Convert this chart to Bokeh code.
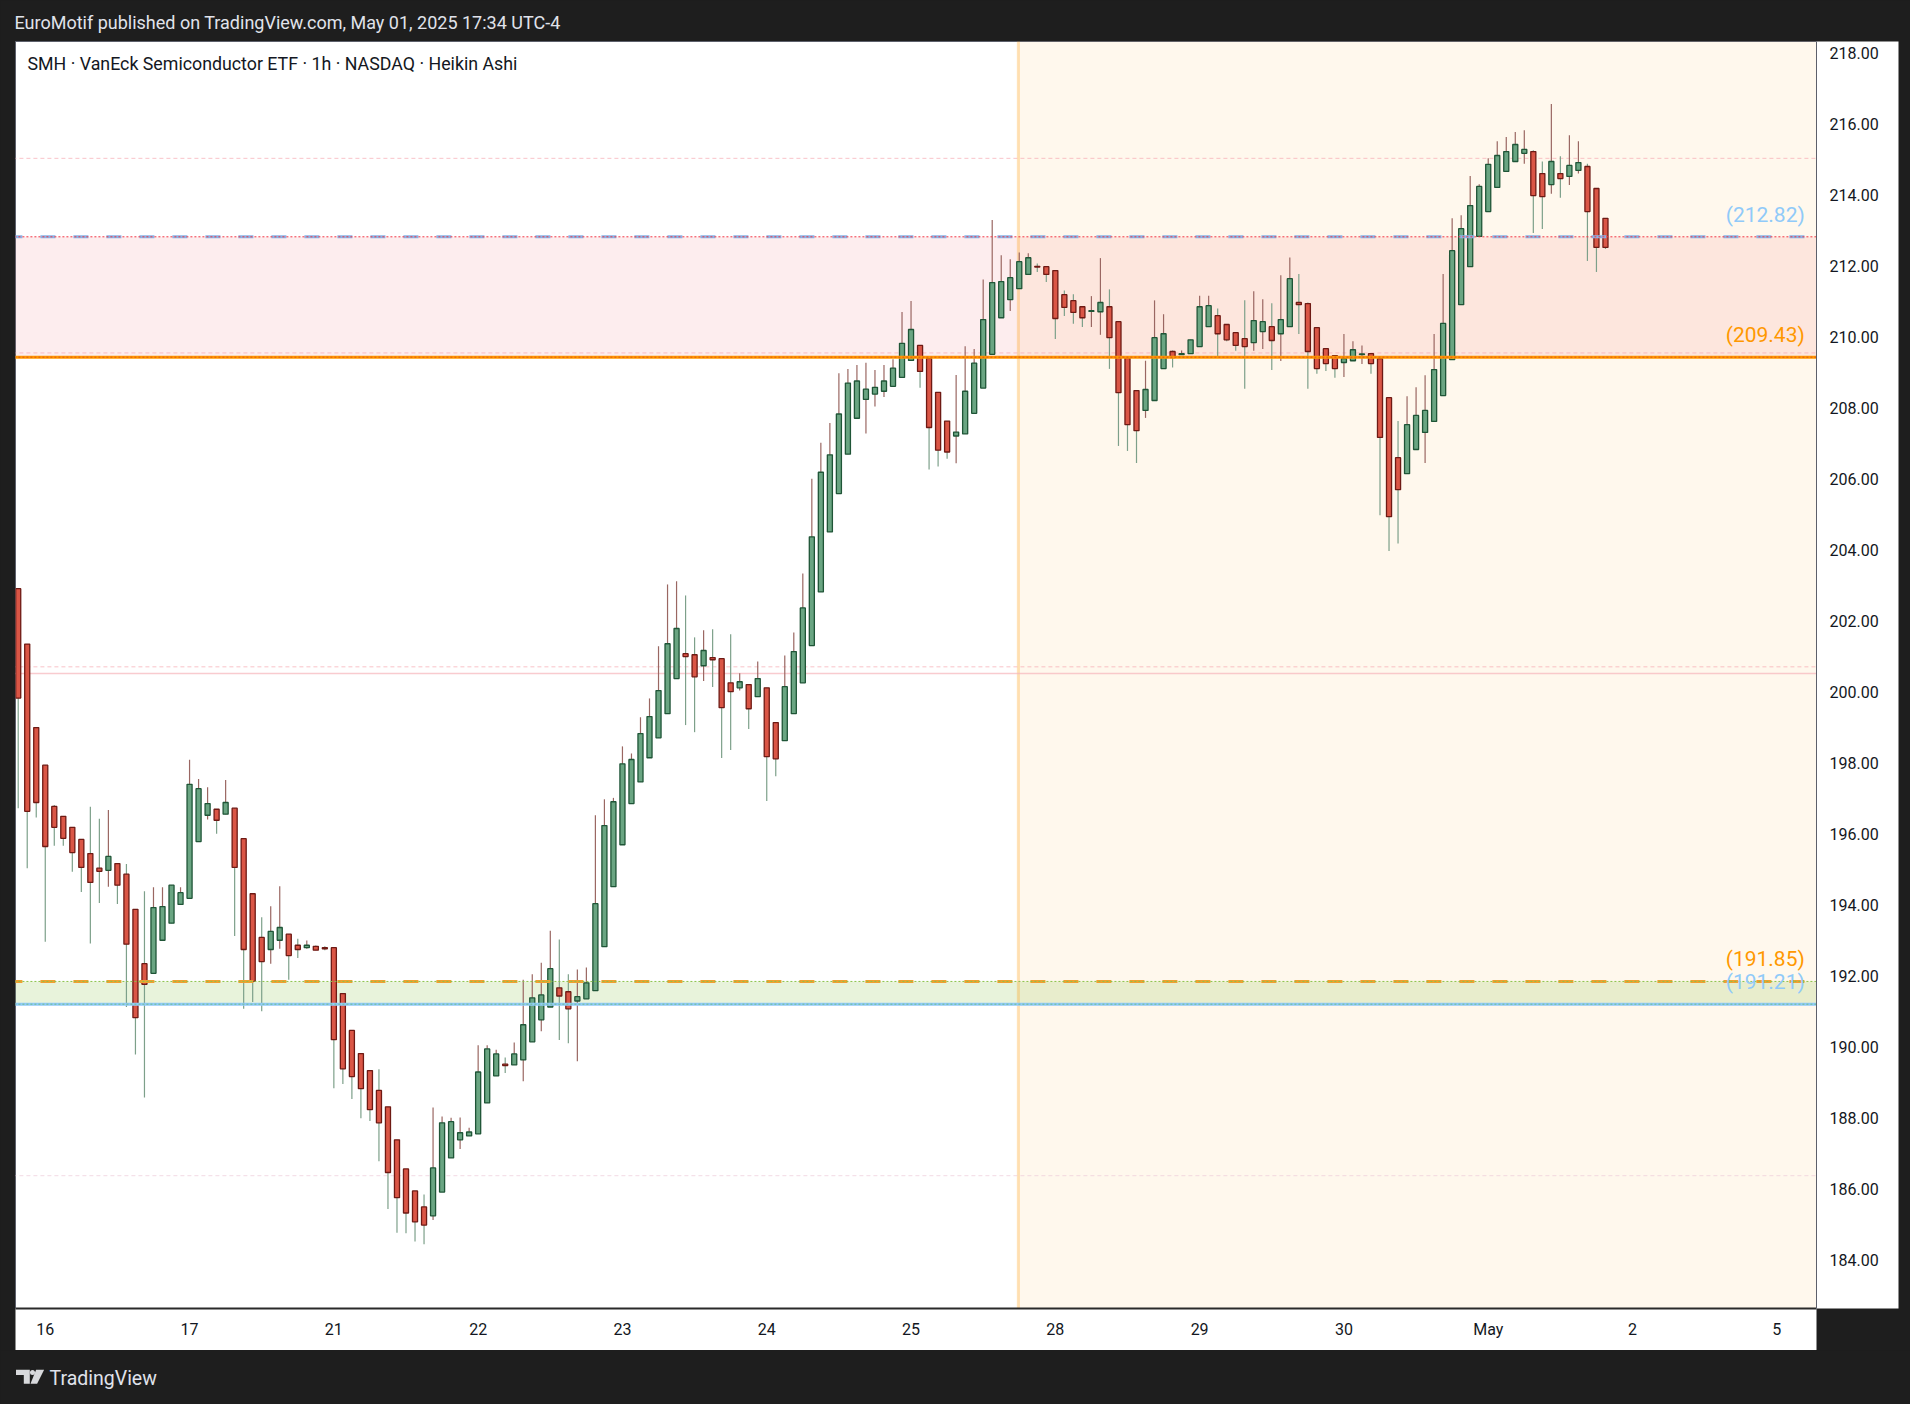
from bokeh.plotting import figure
from bokeh.layouts import column
from bokeh.models import Range1d, FixedTicker, PrintfTickFormatter, ColumnDataSource
from bokeh.core.properties import value
from bokeh.embed import file_html
from bokeh.resources import INLINE

# ---------------- data (Heikin Ashi, 1h bars incl. extended hours) ----------------
opens = [202.91, 201.35, 199.00, 197.94, 196.78, 196.50, 196.19, 195.85, 195.45, 195.04,
         194.98, 195.17, 194.87, 193.88, 192.35, 192.08, 193.01, 193.49, 194.02, 194.19,
         195.79, 196.53, 196.70, 196.56, 196.73, 195.87, 194.32, 193.09, 192.75, 193.01,
         193.18, 192.87, 192.80, 192.84, 192.80, 192.80, 191.51, 190.47, 189.82, 189.34,
         188.78, 188.32, 187.39, 186.57, 185.95, 185.50, 185.25, 185.92, 186.88, 187.39,
         187.50, 187.56, 188.43, 189.19, 189.52, 189.50, 189.64, 190.15, 190.77, 191.13,
         191.67, 191.56, 191.30, 191.36, 191.59, 192.83, 194.52, 195.70, 196.86, 197.47,
         198.15, 198.71, 199.39, 200.38, 201.08, 201.05, 200.74, 200.97, 200.94, 200.26,
         200.12, 200.21, 199.87, 200.12, 199.14, 198.63, 199.39, 200.26, 201.31, 202.82,
         204.51, 205.59, 206.70, 207.71, 208.24, 208.39, 208.47, 208.61, 208.86, 209.34,
         209.76, 209.40, 208.44, 207.63, 207.21, 207.27, 207.85, 208.56, 209.51, 210.54,
         211.05, 211.36, 211.76, 211.99, 211.98, 211.87, 211.19, 211.02, 210.85, 210.72,
         210.71, 210.85, 210.43, 209.42, 208.49, 207.93, 208.21, 209.11, 209.59, 209.50,
         209.53, 209.73, 210.29, 210.60, 210.35, 210.12, 209.95, 209.84, 210.15, 210.29,
         210.09, 210.29, 210.97, 210.94, 210.26, 209.67, 209.47, 209.28, 209.33, 209.50,
         209.53, 209.39, 208.29, 206.60, 206.15, 206.83, 207.31, 207.62, 208.35, 209.36,
         210.91, 211.98, 212.83, 213.53, 214.21, 214.66, 214.94, 215.17, 215.22, 214.60,
         214.29, 214.60, 214.52, 214.69, 214.80, 214.18, 213.34]

highs = [202.93, 201.35, 199.00, 197.94, 196.82, 196.50, 196.19, 195.85, 196.77, 196.43,
         196.68, 195.17, 195.16, 193.88, 194.39, 194.50, 194.50, 194.56, 194.50, 198.09,
         197.55, 197.32, 196.70, 197.52, 196.73, 195.87, 194.32, 193.66, 193.97, 194.53,
         193.18, 193.05, 193.00, 192.86, 192.84, 192.80, 191.51, 190.47, 189.82, 189.34,
         189.38, 188.32, 187.39, 186.57, 185.95, 185.85, 188.30, 188.05, 188.01, 188.02,
         187.73, 190.05, 190.05, 189.93, 189.71, 190.13, 191.90, 192.05, 192.38, 193.28,
         193.03, 192.05, 192.19, 192.24, 196.53, 196.98, 197.02, 198.47, 198.27, 199.29,
         199.82, 201.29, 203.03, 203.12, 202.72, 201.54, 201.74, 201.77, 200.94, 201.63,
         200.53, 200.21, 200.86, 200.12, 199.14, 201.03, 201.68, 203.34, 206.01, 207.02,
         207.58, 208.98, 209.10, 209.21, 209.27, 209.07, 209.21, 209.37, 210.70, 211.01,
         209.76, 209.40, 208.44, 207.63, 208.93, 209.74, 209.66, 211.62, 213.29, 212.30,
         212.19, 212.38, 212.36, 212.07, 211.98, 211.87, 211.31, 211.20, 210.85, 211.15,
         212.22, 211.34, 210.43, 209.42, 208.49, 209.33, 211.03, 210.64, 209.62, 209.62,
         209.92, 211.16, 211.16, 210.80, 210.35, 210.12, 211.03, 211.29, 211.06, 210.95,
         211.74, 212.24, 211.77, 210.97, 210.26, 209.67, 209.47, 210.08, 209.88, 209.76,
         209.55, 209.39, 208.29, 207.63, 208.33, 208.58, 208.92, 210.08, 211.77, 213.34,
         213.43, 214.53, 214.30, 215.03, 215.51, 215.63, 215.77, 215.82, 215.26, 214.94,
         216.56, 215.09, 215.68, 215.51, 214.88, 214.18, 213.34]

lows = [196.73, 195.04, 196.47, 192.97, 195.67, 195.67, 194.94, 194.37, 192.92, 194.06,
        194.52, 194.03, 191.13, 189.79, 188.58, 192.08, 193.01, 193.49, 194.02, 194.19,
        195.79, 196.41, 196.01, 196.56, 193.13, 191.08, 191.27, 191.01, 192.35, 192.77,
        191.90, 192.51, 192.77, 192.73, 192.73, 188.84, 188.96, 188.54, 188.00, 187.92,
        186.79, 185.44, 184.77, 184.76, 184.53, 184.45, 185.13, 185.92, 186.88, 187.13,
        187.50, 187.56, 188.43, 189.19, 189.27, 189.50, 189.04, 190.15, 190.45, 191.13,
        190.20, 190.11, 189.60, 191.36, 191.59, 192.83, 194.52, 195.70, 196.86, 197.47,
        198.15, 198.71, 199.39, 200.38, 199.07, 198.87, 200.31, 200.14, 198.14, 198.37,
        200.04, 198.96, 199.87, 196.93, 197.63, 198.63, 199.39, 200.26, 201.31, 202.82,
        204.51, 205.59, 206.70, 207.71, 207.28, 208.04, 208.31, 208.61, 208.86, 209.34,
        208.57, 206.27, 206.35, 206.57, 206.44, 207.27, 207.85, 208.56, 209.51, 210.54,
        210.73, 211.36, 211.76, 211.83, 211.55, 209.94, 210.59, 210.37, 210.28, 210.28,
        210.06, 209.10, 206.93, 206.79, 206.45, 207.72, 208.21, 209.11, 209.14, 209.50,
        209.53, 209.73, 210.29, 209.42, 209.88, 209.61, 208.54, 209.61, 209.66, 209.07,
        209.32, 210.29, 210.08, 208.54, 208.96, 209.04, 208.85, 208.87, 209.33, 209.24,
        208.96, 204.98, 203.97, 204.18, 206.15, 206.83, 206.45, 207.62, 208.35, 209.36,
        210.91, 211.98, 212.83, 213.53, 214.21, 214.66, 214.94, 214.88, 212.93, 213.04,
        214.03, 213.92, 214.28, 214.60, 212.14, 211.83, 212.48]

closes = [199.83, 196.64, 196.89, 195.65, 196.19, 195.88, 195.48, 195.06, 194.64, 194.95,
          195.37, 194.56, 192.90, 190.83, 191.77, 193.93, 193.96, 194.56, 194.35, 197.40,
          197.28, 196.86, 196.39, 196.89, 195.06, 192.75, 191.85, 192.41, 193.26, 193.37,
          192.58, 192.75, 192.87, 192.73, 192.77, 190.21, 189.39, 189.17, 188.83, 188.24,
          187.87, 186.47, 185.76, 185.33, 185.08, 184.99, 186.60, 187.87, 187.90, 187.59,
          187.61, 189.30, 189.95, 189.81, 189.48, 189.81, 190.63, 191.39, 191.47, 192.21,
          191.44, 191.08, 191.42, 191.81, 194.04, 196.24, 196.91, 197.98, 198.10, 198.83,
          199.31, 200.04, 201.36, 201.79, 201.00, 200.43, 201.17, 200.91, 199.56, 200.01,
          200.29, 199.53, 200.38, 198.18, 198.12, 200.15, 201.14, 202.37, 204.37, 206.19,
          206.68, 207.83, 208.70, 208.76, 208.53, 208.58, 208.76, 209.12, 209.82, 210.21,
          209.03, 207.45, 206.81, 206.76, 207.32, 208.47, 209.26, 210.49, 211.53, 211.56,
          211.67, 212.12, 212.23, 211.97, 211.76, 210.52, 210.83, 210.69, 210.54, 210.74,
          210.97, 209.98, 208.43, 207.53, 207.36, 208.52, 209.98, 210.09, 209.42, 209.53,
          209.92, 210.85, 210.88, 210.09, 209.92, 209.76, 209.73, 210.46, 210.43, 209.90,
          210.49, 211.64, 210.91, 209.59, 209.11, 209.25, 209.11, 209.39, 209.64, 209.52,
          209.25, 207.17, 204.94, 205.70, 207.53, 207.79, 207.93, 209.08, 210.38, 212.43,
          213.05, 213.70, 214.24, 214.86, 215.11, 215.22, 215.42, 215.28, 213.98, 213.95,
          214.94, 214.46, 214.83, 214.91, 213.53, 212.52, 212.52]

day_labels = ["16", "17", "21", "22", "23", "24", "25", "28", "29", "30", "May", "2", "5"]
bars_per_day = 16
first_day_bar = 3
price_ticks = list(range(184, 219, 2))

resistance_top = 212.82
resistance_bottom = 209.43
support_top = 191.85
support_bottom = 191.21
guide_dashed = [215.03, 209.55, 200.71]
guide_solid = [200.52]
guide_faint = [186.38]
session_start_bar = 110.9

header_text = "EuroMotif published on TradingView.com, May 01, 2025 17:34 UTC-4"
chart_title = "SMH \u00b7 VanEck Semiconductor ETF \u00b7 1h \u00b7 NASDAQ \u00b7 Heikin Ashi"
footer_text = "TradingView"

# ---------------- styling ----------------
FONT = "Roboto"
DARK = "#1e1e1e"
UP_FILL, UP_LINE, UP_WICK = "#6aa582", "#1f5537", "#9a6762"
DN_FILL, DN_LINE, DN_WICK = "#da5646", "#6e1a14", "#7da08a"

n = len(opens)
xs = list(range(n))
tick_pos = [first_day_bar + bars_per_day * k for k in range(len(day_labels))]

x_lo, x_hi = -0.30, 199.4
y_lo, y_hi = 182.64, 218.32

p = figure(width=1910, height=1350, x_range=Range1d(x_lo, x_hi), y_range=Range1d(y_lo, y_hi),
           output_backend="svg", toolbar_location=None, y_axis_location="right",
           min_border_left=15, min_border_right=94, min_border_top=41, min_border_bottom=42)
p.background_fill_color = "white"
p.border_fill_color = DARK
p.outline_line_color = "#5d606b"
p.xgrid.visible = False
p.ygrid.visible = False

# header title
p.title.text = header_text
p.title.align = "left"
p.title.text_font = FONT
p.title.text_font_size = "18px"
p.title.text_font_style = "normal"
p.title.text_color = "#e0e3eb"
p.title.standoff = 17
p.title.offset = -1

# axes
for ax in (p.xaxis[0], p.yaxis[0]):
    ax.major_tick_out = 0
    ax.major_tick_in = 0
    ax.minor_tick_out = 0
    ax.minor_tick_in = 0
    ax.major_label_text_font = FONT
    ax.major_label_text_font_size = "16px"
    ax.major_label_text_color = "#131722"
    ax.axis_label = " "
    ax.axis_label_text_color = "white"
    if "background_fill_color" in ax.properties():
        ax.background_fill_color = "white"

p.yaxis.ticker = FixedTicker(ticks=price_ticks)
p.yaxis.formatter = PrintfTickFormatter(format="%.2f")
p.yaxis.major_label_standoff = 13
p.yaxis.axis_label_text_font_size = "10px"
p.yaxis.axis_label_standoff = 3
p.yaxis.axis_line_color = "#5d606b"

p.xaxis.ticker = FixedTicker(ticks=tick_pos)
p.xaxis.major_label_overrides = {t: lab for t, lab in zip(tick_pos, day_labels)}
p.xaxis.major_label_standoff = 11
p.xaxis.axis_label_text_font_size = "6px"
p.xaxis.axis_label_standoff = 0
p.xaxis.axis_line_color = "#2a2a2a"
p.xaxis.axis_line_width = 2

# background regions
p.quad(left=[session_start_bar], right=[x_hi + 5], bottom=[y_lo - 5], top=[y_hi + 5],
       fill_color="#ff9800", fill_alpha=0.07, line_color=None)
p.quad(left=[x_lo - 5], right=[x_hi + 5], bottom=[resistance_bottom], top=[resistance_top],
       fill_color="#ea4a55", fill_alpha=0.1, line_color=None)
p.quad(left=[x_lo - 5], right=[x_hi + 5], bottom=[support_bottom], top=[support_top],
       fill_color="#8bc34a", fill_alpha=0.2, line_color=None)
p.segment(x0=[session_start_bar], y0=[y_lo - 5], x1=[session_start_bar], y1=[y_hi + 5],
          line_color="#ff9800", line_alpha=0.28, line_width=3)

# guide lines
for v in guide_dashed:
    p.segment(x0=[x_lo - 5], y0=[v], x1=[x_hi + 5], y1=[v], line_color="#f7a8b0",
              line_alpha=0.7, line_width=1, line_dash="4 3")
for v in guide_solid:
    p.segment(x0=[x_lo - 5], y0=[v], x1=[x_hi + 5], y1=[v], line_color="#f7b5bb",
              line_alpha=0.7, line_width=1.5)
for v in guide_faint:
    p.segment(x0=[x_lo - 5], y0=[v], x1=[x_hi + 5], y1=[v], line_color="#eecbd8",
              line_alpha=0.7, line_width=1, line_dash="4 3")

# candles
up = [i for i in xs if closes[i] >= opens[i]]
dn = [i for i in xs if closes[i] < opens[i]]
for idx, fill, line, wick in ((up, UP_FILL, UP_LINE, UP_WICK), (dn, DN_FILL, DN_LINE, DN_WICK)):
    src = ColumnDataSource(dict(
        x=[xs[i] for i in idx],
        high=[highs[i] for i in idx],
        low=[lows[i] for i in idx],
    ))
    p.segment(x0="x", y0="low", x1="x", y1="high", source=src, line_color=wick, line_width=1.2)
for idx, fill, line, wick in ((up, UP_FILL, UP_LINE, UP_WICK), (dn, DN_FILL, DN_LINE, DN_WICK)):
    src = ColumnDataSource(dict(
        x=[xs[i] for i in idx],
        top=[max(opens[i], closes[i]) for i in idx],
        bottom=[min(opens[i], closes[i]) for i in idx],
    ))
    p.vbar(x="x", width=0.56, top="top", bottom="bottom", source=src,
           fill_color=fill, line_color=line, line_width=1.3)

# level lines (drawn above the candles)
L, R = x_lo - 5, x_hi + 5
p.segment(x0=[L], y0=[resistance_top], x1=[R], y1=[resistance_top], line_color="#8ab4e8",
          line_width=3, line_dash="15 18", line_dash_offset=-4)
p.segment(x0=[L], y0=[resistance_top], x1=[R], y1=[resistance_top], line_color="#f23645",
          line_width=1, line_dash="2 2")
p.segment(x0=[L], y0=[resistance_bottom], x1=[R], y1=[resistance_bottom], line_color="#ff9800",
          line_width=3)
p.segment(x0=[L], y0=[resistance_bottom], x1=[R], y1=[resistance_bottom], line_color="#c62828",
          line_width=1, line_dash="2 2", line_alpha=0.6)
p.segment(x0=[L], y0=[support_top], x1=[R], y1=[support_top], line_color="#f0a030",
          line_width=3, line_dash="15 18", line_dash_offset=-4)
p.segment(x0=[L], y0=[support_top], x1=[R], y1=[support_top], line_color="#8bc34a",
          line_width=1, line_dash="2 2")
p.segment(x0=[L], y0=[support_bottom], x1=[R], y1=[support_bottom], line_color="#90caf9",
          line_width=3)
p.segment(x0=[L], y0=[support_bottom], x1=[R], y1=[support_bottom], line_color="#66bb6a",
          line_width=1, line_dash="2 2", line_alpha=0.8)

# level labels
lab_x = 198.1
lab_shift = 0.62
for v, col in ((resistance_top, "#90caf9"), (resistance_bottom, "#ff9800"),
               (support_top, "#ff9800"), (support_bottom, "#90caf9")):
    p.text(x=[lab_x], y=[v + lab_shift], text=["(%.2f)" % v], text_align="right",
           text_baseline="middle", text_color=col, text_font=value(FONT),
           text_font_size="21px")

# chart title inside the pane
p.text(x=[1.03], y=[217.71], text=[chart_title], text_align="left", text_baseline="middle",
       text_color="#131722", text_font=value(FONT), text_font_size="17.8px")

# ---------------- footer strip with the TradingView mark ----------------
# its frame is aligned with the chart frame (page x 15..1816), so the range is in page pixels
f = figure(width=1910, height=54, x_range=Range1d(15, 1816), y_range=Range1d(54, 0),
           output_backend="svg", toolbar_location=None,
           min_border_left=15, min_border_right=94, min_border_top=0, min_border_bottom=0)
f.axis.visible = False
f.grid.visible = False
f.outline_line_color = None
f.background_fill_color = DARK
f.border_fill_color = DARK
LOGO = "#d8d9dc"
f.patches(xs=[[15.5, 29.3, 29.3, 23.3, 23.3, 15.5], [35.6, 43.6, 36.6, 30.0]],
          ys=[[19.3, 19.3, 33.3, 33.3, 24.5, 24.5], [19.3, 19.3, 33.3, 33.3]],
          fill_color=LOGO, line_color=None)
f.ellipse(x=[32.0], y=[21.9], width=5.0, height=5.0, fill_color=LOGO, line_color=None)
f.text(x=[49], y=[27.6], text=[footer_text], text_align="left", text_baseline="middle",
       text_color="#e0e3eb", text_font=value(FONT), text_font_size="19.5px")

layout = column(p, f, spacing=0, styles={"background-color": DARK})
open("out.html", "w").write(file_html(layout, INLINE, title="SMH Heikin Ashi"))
